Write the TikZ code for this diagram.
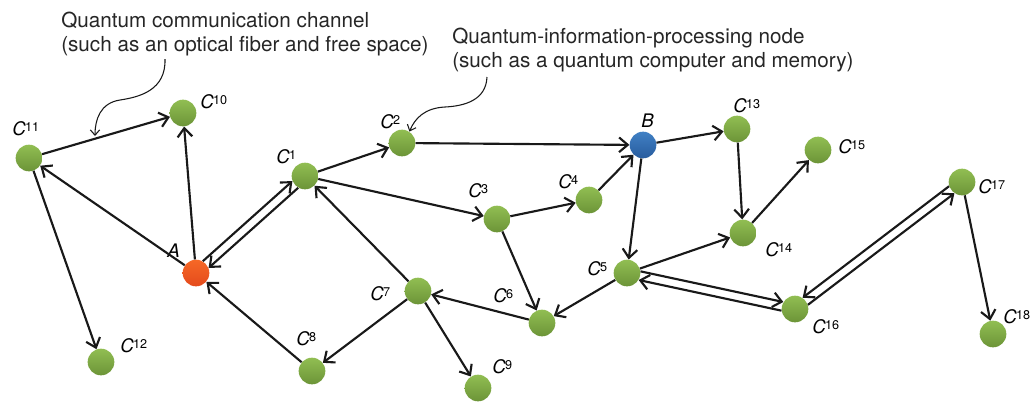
\documentclass[tikz,border=0pt]{standalone}
\usepackage{fontspec}
\setmainfont{TeX Gyre Heros}
\usetikzlibrary{arrows.meta}
\definecolor{qgreen}{RGB}{145,190,82}
\definecolor{qgreendark}{RGB}{108,148,56}
\definecolor{qorange}{RGB}{246,104,38}
\definecolor{qorangedark}{RGB}{228,74,28}
\definecolor{qblue}{RGB}{64,128,196}
\definecolor{qbluedark}{RGB}{40,92,158}
\newcommand{\cname}[1]{\textit{C}\kern-0.5pt\raisebox{3pt}{\fontsize{9.5}{10}\selectfont #1}}
\tikzset{
  qnode/.style={circle,minimum size=20pt,inner sep=0pt,top color=qgreen,bottom color=qgreendark},
  qnodeA/.style={qnode,top color=qorange,bottom color=qorangedark},
  qnodeB/.style={qnode,top color=qblue,bottom color=qbluedark},
  lbl/.style={anchor=base west,inner sep=0pt,font=\fontsize{14}{16}\selectfont},
  ann/.style={anchor=north west,inner sep=0pt,align=left,font=\fontsize{15.5}{17.5}\selectfont,text=black!85},
  edge/.style={line width=1.6pt,black!90,-{Straight Barb[length=6.5pt,width=11pt]}},
  pointer/.style={line width=0.8pt,black!90,-{Straight Barb[length=4pt,width=7pt]}}
}
\begin{document}
\begin{tikzpicture}[x=0.75pt,y=-0.75pt]
  \useasboundingbox (0,0) rectangle (1030,401);
  % annotations
  \node[ann] (chan) at (61,12) {Quantum communication channel\\(such as an optical fiber and free space)};
  \node[ann] (proc) at (452,28) {Quantum-information-processing node\\(such as a quantum computer and memory)};
  % network nodes
  \node[qnodeA] (a) at (196,273) {};
  \node[qnodeB] (b) at (643,145) {};
  \node[qnode] (c1) at (305,176) {};
  \node[qnode] (c2) at (402,143) {};
  \node[qnode] (c3) at (497,219) {};
  \node[qnode] (c4) at (589,200) {};
  \node[qnode] (c5) at (627,273) {};
  \node[qnode] (c6) at (542,323) {};
  \node[qnode] (c7) at (418,291) {};
  \node[qnode] (c8) at (312,371) {};
  \node[qnode] (c9) at (478,388) {};
  \node[qnode] (c10) at (183,113) {};
  \node[qnode] (c11) at (29,158) {};
  \node[qnode] (c12) at (101,362) {};
  \node[qnode] (c13) at (737,129) {};
  \node[qnode] (c14) at (743,233) {};
  \node[qnode] (c15) at (818,150) {};
  \node[qnode] (c16) at (795,309) {};
  \node[qnode] (c17) at (962,182) {};
  \node[qnode] (c18) at (993,334) {};
  % labels
  \node[lbl] (la) at (167,257) {\textit{A}};
  \node[lbl] (lb) at (641,127) {\textit{B}};
  \node[lbl] (l1) at (276,163) {\cname{1}};
  \node[lbl] (l2) at (380,128) {\cname{2}};
  \node[lbl] (l3) at (468,197) {\cname{3}};
  \node[lbl] (l4) at (558,188) {\cname{4}};
  \node[lbl] (l5) at (587,275) {\cname{5}};
  \node[lbl] (l6) at (493,302) {\cname{6}};
  \node[lbl] (l7) at (370,300) {\cname{7}};
  \node[lbl] (l8) at (296,345) {\cname{8}};
  \node[lbl] (l9) at (492,373) {\cname{9}};
  \node[lbl] (l10) at (200,108) {\cname{10}};
  \node[lbl] (l11) at (12,135) {\cname{11}};
  \node[lbl] (l12) at (120,352) {\cname{12}};
  \node[lbl] (l13) at (733,112) {\cname{13}};
  \node[lbl] (l14) at (765,256) {\cname{14}};
  \node[lbl] (l15) at (838,153) {\cname{15}};
  \node[lbl] (l16) at (812,333) {\cname{16}};
  \node[lbl] (l17) at (978,193) {\cname{17}};
  \node[lbl] (l18) at (1003,323) {\cname{18}};
  % channels
  \draw[edge] (c11) -- (c10);
  \draw[edge] (a) -- (c10);
  \draw[edge] (a) -- (c11);
  \draw[edge] (c11) -- (c12);
  \draw[edge] (a.60) -- (c1.202);
  \draw[edge] (c1.240) -- (a.22);
  \draw[edge] (c1) -- (c2);
  \draw[edge] (c2) -- (b);
  \draw[edge] (c1) -- (c3);
  \draw[edge] (c3) -- (c4);
  \draw[edge] (c4) -- (b);
  \draw[edge] (b) -- (c13);
  \draw[edge] (b) -- (c5);
  \draw[edge] (c13) -- (c14);
  \draw[edge] (c14) -- (c15);
  \draw[edge] (c5) -- (c14);
  \draw[edge] (c5.7) -- (c16.149);
  \draw[edge] (c16.187) -- (c5.329);
  \draw[edge] (c16.18) -- (c17.236);
  \draw[edge] (c17.198) -- (c16.56);
  \draw[edge] (c17) -- (c18);
  \draw[edge] (c3) -- (c6);
  \draw[edge] (c5) -- (c6);
  \draw[edge] (c6) -- (c7);
  \draw[edge] (c7) -- (c1);
  \draw[edge] (c7) -- (c8);
  \draw[edge] (c7) -- (c9);
  \draw[edge] (c8) -- (a);
  % pointers from the annotations
  \coordinate (chantail) at (165,59);
  \coordinate (chanhead) at (95,136);
  \draw[pointer] (chantail) .. controls (166,90) and (140,97) .. (120,100)
    .. controls (100,103) and (95,120) .. (chanhead);
  \coordinate (proctail) at (487,77);
  \draw[pointer] (proctail) .. controls (486,100) and (465,106) .. (445,107)
    .. controls (425,108) and (415,118) .. (c2.57);
\end{tikzpicture}
\end{document}
